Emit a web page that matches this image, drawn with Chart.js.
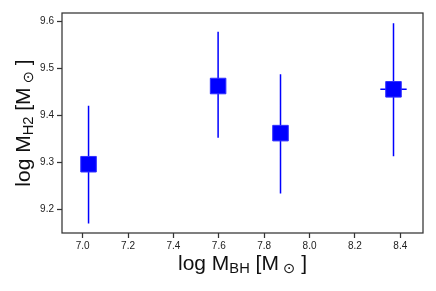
<!DOCTYPE html>
<html>
<head>
<meta charset="utf-8">
<script src="https://cdn.jsdelivr.net/npm/chart.js@4.4.1/dist/chart.umd.min.js"></script>
<style>
  html, body { margin: 0; padding: 0; background: #fff; }
  #wrap { width: 436px; height: 291px; }
</style>
</head>
<body>
<div id="wrap"><canvas id="myChart"></canvas></div>
<script>
// log M_BH vs log M_H2 with error bars
const logMbh = [7.026, 7.597, 7.872, 8.370];
const logMh2 = [9.296, 9.462, 9.362, 9.455];
const mh2Low = [9.170, 9.352, 9.234, 9.313];
const mh2High = [9.420, 9.577, 9.487, 9.595];
const mbhErr = [0.023, 0, 0, 0.058];

const xTicks = [7.0, 7.2, 7.4, 7.6, 7.8, 8.0, 8.2, 8.4];
const yTicks = [9.2, 9.3, 9.4, 9.5, 9.6];

const axisColor = '#333333';
const blue = '#0000ff';

// error bar segments, separated by null gaps
const vBars = [];
const hBars = [];
logMbh.forEach((x, i) => {
    vBars.push({x: x, y: mh2Low[i]}, {x: x, y: mh2High[i]}, {x: x, y: null});
    hBars.push({x: x - mbhErr[i], y: logMh2[i]}, {x: x + mbhErr[i], y: logMh2[i]}, {x: x, y: null});
});

// frame + axis titles with subscripts
const framePlugin = {
    id: 'frame',
    afterDraw(chart) {
        const ctx = chart.ctx;
        const a = chart.chartArea;
        ctx.save();
        ctx.strokeStyle = axisColor;
        ctx.lineWidth = 1.25;
        ctx.strokeRect(a.left, a.top, a.right - a.left, a.bottom - a.top);

        const size = 21;
        const parts = (main) => [
            {t: 'log M', s: false},
            {t: main, s: true},
            {t: ' [M', s: false},
            {t: ' \u2299', s: true},
            {t: ' ]', s: false}
        ];
        const drawLabel = (list) => {
            let w = 0;
            list.forEach(p => {
                ctx.font = (p.s ? size * 0.7 : size) + 'px "Liberation Sans", "DejaVu Sans", sans-serif';
                p.w = ctx.measureText(p.t).width;
                w += p.w;
            });
            let x = -w / 2;
            ctx.fillStyle = '#111111';
            ctx.textBaseline = 'alphabetic';
            ctx.textAlign = 'left';
            list.forEach(p => {
                ctx.font = (p.s ? size * 0.7 : size) + 'px "Liberation Sans", "DejaVu Sans", sans-serif';
                ctx.fillText(p.t, x, p.s ? 3 : 0);
                x += p.w;
            });
        };

        ctx.save();
        ctx.translate((a.left + a.right) / 2, 270);
        drawLabel(parts('BH'));
        ctx.restore();

        ctx.save();
        ctx.translate(30, (a.top + a.bottom) / 2);
        ctx.rotate(-Math.PI / 2);
        drawLabel(parts('H2'));
        ctx.restore();

        ctx.restore();
    }
};

const ctx = document.getElementById('myChart').getContext('2d');
const myChart = new Chart(ctx, {
    type: 'scatter',
    data: {
        datasets: [
            {
                data: logMbh.map((x, i) => ({x: x, y: logMh2[i]})),
                pointStyle: 'rect',
                pointRadius: 11,
                backgroundColor: blue,
                borderColor: '#3030ff',
                borderWidth: 1,
                order: 0
            },
            {
                data: vBars,
                showLine: true,
                spanGaps: false,
                pointRadius: 0,
                borderColor: blue,
                borderWidth: 1.5,
                order: 1
            },
            {
                data: hBars,
                showLine: true,
                spanGaps: false,
                pointRadius: 0,
                borderColor: blue,
                borderWidth: 1.5,
                order: 1
            }
        ]
    },
    options: {
        responsive: true,
        maintainAspectRatio: false,
        animation: false,
        layout: {
            padding: {top: 13, right: 13, left: 0, bottom: 0}
        },
        scales: {
            x: {
                type: 'linear',
                min: 6.909,
                max: 8.50,
                afterBuildTicks: (scale) => { scale.ticks = xTicks.map(v => ({value: v})); },
                afterFit: (scale) => { scale.height = 58; },
                grid: {
                    drawOnChartArea: false,
                    drawTicks: true,
                    tickLength: 5,
                    tickColor: axisColor,
                    tickWidth: 1.25
                },
                border: {display: false},
                ticks: {
                    color: '#222222',
                    padding: 2,
                    maxRotation: 0,
                    font: {family: '"Liberation Sans", sans-serif', size: 10},
                    callback: (v) => Number(v).toFixed(1)
                }
            },
            y: {
                type: 'linear',
                min: 9.15,
                max: 9.617,
                afterBuildTicks: (scale) => { scale.ticks = yTicks.map(v => ({value: v})); },
                afterFit: (scale) => { scale.width = 62; },
                grid: {
                    drawOnChartArea: false,
                    drawTicks: true,
                    tickLength: 5,
                    tickColor: axisColor,
                    tickWidth: 1.25
                },
                border: {display: false},
                ticks: {
                    color: '#222222',
                    padding: 3,
                    font: {family: '"Liberation Sans", sans-serif', size: 10},
                    callback: (v) => Number(v).toFixed(1)
                }
            }
        },
        plugins: {
            legend: {display: false},
            tooltip: {enabled: false},
            title: {display: false}
        }
    },
    plugins: [framePlugin]
});
</script>
</body>
</html>
